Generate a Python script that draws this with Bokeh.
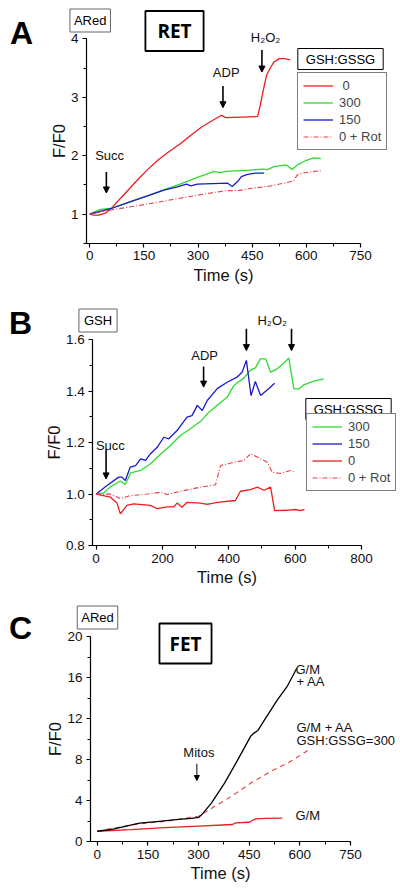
from bokeh.plotting import figure
from bokeh.layouts import column
from bokeh.models import (Label, Arrow, NormalHead, Legend, LegendItem,
                          SingleIntervalTicker, PrintfTickFormatter, Range1d)
from bokeh.embed import file_html
from bokeh.resources import INLINE

# ---------------- data ----------------
# Panel A  (ARed, RET)
tA_red = [0, 10, 25, 45, 60, 90, 130, 160, 190, 220, 250, 280, 310, 340, 365, 377, 420, 465, 472, 480, 490, 500, 510, 525, 540, 555]
yA_red = [1.00, 0.98, 0.98, 1.02, 1.10, 1.30, 1.57, 1.76, 1.93, 2.07, 2.20, 2.35, 2.49, 2.60, 2.69, 2.65, 2.66, 2.67, 2.85, 3.10, 3.38, 3.50, 3.60, 3.66, 3.66, 3.64]
tA_green = [0, 15, 30, 60, 100, 160, 200, 250, 300, 345, 360, 380, 440, 480, 492, 510, 545, 560, 575, 600, 620, 640]
yA_green = [1.00, 1.04, 1.08, 1.10, 1.18, 1.31, 1.40, 1.51, 1.63, 1.73, 1.71, 1.73, 1.75, 1.77, 1.76, 1.81, 1.84, 1.76, 1.84, 1.92, 1.96, 1.95]
tA_blue = [0, 20, 58, 113, 160, 205, 240, 268, 280, 298, 340, 381, 395, 410, 420, 437, 460, 483]
yA_blue = [1.00, 1.03, 1.09, 1.21, 1.31, 1.41, 1.46, 1.51, 1.48, 1.51, 1.52, 1.53, 1.47, 1.56, 1.64, 1.68, 1.70, 1.70]
tA_rot = [0, 30, 70, 160, 250, 345, 380, 410, 450, 500, 540, 565, 575, 590, 610, 640]
yA_rot = [1.00, 1.04, 1.08, 1.17, 1.27, 1.37, 1.40, 1.40, 1.44, 1.48, 1.53, 1.57, 1.67, 1.70, 1.72, 1.74]
A_labels = ["\u00a00", "300", "150", "0 + Rot"]
A_events = ["Succ", "ADP", "H\u2082O\u2082"]
A_event_t = [46, 369, 477]
A_arrow_top = [1.72, 3.19, 3.81]
A_arrow_tip = [1.36, 2.82, 3.43]
A_text_t = [55, 378, 487]
A_text_y = [2.00, 3.43, 4.03]

# Panel B  (GSH)
tB_green = [0, 23, 43, 73, 88, 104, 134, 164, 194, 224, 254, 284, 315, 335, 365, 395, 415, 445, 465, 480, 495, 511, 526, 546, 566, 581, 596, 611, 626, 656, 686]
yB_green = [1.0, 1.005, 1.028, 1.051, 1.037, 1.082, 1.092, 1.118, 1.155, 1.189, 1.228, 1.254, 1.283, 1.312, 1.345, 1.377, 1.422, 1.451, 1.481, 1.491, 1.526, 1.526, 1.474, 1.487, 1.51, 1.529, 1.409, 1.409, 1.425, 1.439, 1.448]
tB_blue = [0, 33, 68, 78, 88, 103, 119, 134, 149, 164, 184, 204, 219, 244, 274, 289, 305, 320, 335, 365, 395, 425, 440, 453, 467, 480, 496, 520, 538]
yB_blue = [1.0, 1.033, 1.066, 1.066, 1.053, 1.105, 1.111, 1.137, 1.131, 1.157, 1.182, 1.221, 1.215, 1.247, 1.299, 1.305, 1.345, 1.325, 1.364, 1.41, 1.435, 1.455, 1.474, 1.52, 1.383, 1.438, 1.383, 1.41, 1.431]
tB_red = [0, 43, 63, 73, 93, 113, 164, 184, 214, 234, 244, 259, 274, 315, 335, 365, 420, 435, 465, 486, 506, 526, 538, 575, 601, 616, 628]
yB_red = [1.0, 0.988, 0.965, 0.923, 0.956, 0.962, 0.956, 0.943, 0.95, 0.95, 0.965, 0.949, 0.968, 0.965, 0.96, 0.968, 0.975, 1.011, 1.017, 1.027, 1.015, 1.027, 0.936, 0.937, 0.94, 0.936, 0.94]
tB_rot = [0, 43, 73, 103, 154, 194, 214, 254, 315, 360, 375, 415, 445, 465, 496, 516, 531, 556, 586, 601]
yB_rot = [1.0, 1.0, 0.982, 0.994, 1.0, 1.007, 0.998, 1.011, 1.027, 1.036, 1.111, 1.124, 1.13, 1.157, 1.137, 1.124, 1.085, 1.08, 1.092, 1.085]
B_labels = ["300", "150", "0", "0 + Rot"]
B_arrow_t = [30, 324, 453, 589]
B_arrow_top = [1.176, 1.496, 1.643, 1.643]
B_arrow_tip = [1.059, 1.416, 1.558, 1.558]
B_events = ["Succ", "ADP", "H\u2082O\u2082"]
B_text_t = [43, 327, 531]
B_text_y = [1.189, 1.539, 1.675]

# Panel C  (ARed, FET)
tC_black = [0, 47, 86, 125, 183, 241, 280, 300, 309, 338, 377, 416, 455, 465, 475, 494, 533, 562, 591]
yC_black = [1.0, 1.2, 1.5, 1.8, 1.97, 2.15, 2.25, 2.35, 2.6, 3.75, 5.7, 7.96, 10.3, 10.6, 10.8, 11.8, 13.8, 15.1, 16.9]
tC_rot = [0, 105, 202, 300, 348, 397, 455, 514, 572, 626]
yC_rot = [1.0, 1.65, 1.97, 2.46, 3.43, 4.40, 5.70, 6.83, 7.80, 8.93]
tC_red = [0, 100, 200, 300, 400, 410, 450, 462, 470, 500, 548]
yC_red = [1.0, 1.15, 1.35, 1.5, 1.66, 1.82, 1.88, 2.1, 2.2, 2.25, 2.28]
C_arrow_t = [295]
C_arrow_top = [7.58]
C_arrow_tip = [5.95]
C_texts = ["Mitos", "G/M", "+ AA", "G/M + AA", "GSH:GSSG=300", "G/M"]
C_text_t = [301, 587, 590, 590, 590, 587]
C_text_y = [8.71, 16.8, 15.6, 11.15, 9.85, 2.54]

# ---------------- style ----------------
FONT = "Liberation Sans"
BOLD = "Open Sans"
RED = "#ee1c1c"
GREEN = "#2ddc2d"
BLUE = "#1a1acc"
ROT = "#e64048"
BLACK = "#000000"
LW = 1.3
W = 400


def make_fig(H, box, xr, yr, xint, yint, yfmt=None):
    # box = (left, right, top, bottom) of the axes area in figure pixels
    L, R, T, B = box
    x0, x1 = xr
    y0, y1 = yr
    sx = (x1 - x0) / (R - L)
    sy = (y1 - y0) / (B - T)
    p = figure(frame_width=W, frame_height=H,
               x_range=Range1d(x0 - L * sx, x1 + (W - R) * sx),
               y_range=Range1d(y0 - (H - B) * sy, y1 + T * sy),
               output_backend="svg", toolbar_location=None,
               min_border=0, min_border_left=0, min_border_right=0,
               min_border_top=0, min_border_bottom=0)
    p.outline_line_color = None
    p.xgrid.visible = False
    p.ygrid.visible = False
    p.xaxis.ticker = SingleIntervalTicker(interval=xint, num_minor_ticks=2)
    p.yaxis.ticker = SingleIntervalTicker(interval=yint, num_minor_ticks=2)
    p.xaxis.fixed_location = y0
    p.yaxis.fixed_location = x0
    p.xaxis.bounds = (x0, x1)
    p.yaxis.bounds = (y0, y1)
    if yfmt:
        p.yaxis.formatter = PrintfTickFormatter(format=yfmt)
    for ax in (p.xaxis[0], p.yaxis[0]):
        ax.major_tick_in = 0
        ax.major_tick_out = 4
        ax.minor_tick_in = 0
        ax.minor_tick_out = 3
        ax.axis_line_width = 1.2
        ax.major_tick_line_width = 1.2
        ax.major_label_text_font = FONT
        ax.major_label_text_font_size = "13.5px"
        ax.major_label_text_color = "#111111"
        ax.major_label_standoff = 4
        ax.axis_label_text_font = FONT
        ax.axis_label_text_font_size = "16.5px"
        ax.axis_label_text_font_style = "normal"
        ax.axis_label_text_color = "#111111"
    p.xaxis.axis_label = "Time (s)"
    p.yaxis.axis_label = "F/F0"
    p.xaxis.axis_label_standoff = 2
    p.yaxis.axis_label_standoff = 0
    return p


def screen_label(p, H, top, cx, cy, text, size, font=FONT, bold=False, box=None, pad=None,
                 baseline="middle"):
    # cx, cy: centre (or baseline) in page pixels
    kw = {}
    if box:
        kw.update(border_line_color=box[0], border_line_width=box[1],
                  background_fill_color="white", padding=pad)
    lab = Label(x=cx, y=H - (cy - top), x_units="screen", y_units="screen",
                text=text, text_font=font, text_font_size=size,
                text_font_style="bold" if bold else "normal",
                text_align="center", text_baseline=baseline, text_color="#000000", **kw)
    p.add_layout(lab)


def panel_letter(p, H, top, cx, base, text):
    screen_label(p, H, top, cx, base, text, "32px", font=FONT, bold=True, baseline="alphabetic")


def arrow(p, x, y0, y1, w=1.6, size=6):
    p.add_layout(Arrow(end=NormalHead(size=size, fill_color="black", line_color="black", line_width=1),
                       x_start=x, y_start=y0, x_end=x, y_end=y1,
                       line_color="black", line_width=w))


def data_label(p, x, y, text, align="center", size="13px"):
    p.add_layout(Label(x=x, y=y, text=text, text_font=FONT, text_font_size=size,
                       text_align=align, text_baseline="middle", text_color="#111111"))


def legend(p, items, x, y):
    lg = Legend(items=[LegendItem(label=l, renderers=[r]) for l, r in items],
                location=(x, y), orientation="vertical",
                border_line_color="black", border_line_width=1,
                background_fill_color="white", background_fill_alpha=1,
                label_text_font=FONT, label_text_font_size="13px",
                glyph_width=30, glyph_height=13, label_standoff=6,
                spacing=2, padding=5, margin=0, label_height=13)
    p.add_layout(lg)


# ---------------- Panel A ----------------
HA, TOPA = 290, 0
pA = make_fig(HA, (86, 360, 38.3, 242.7), (-9, 750), (0.5, 4), 150, 1)
rA1 = pA.line(tA_red, yA_red, line_color=RED, line_width=LW)
rA2 = pA.line(tA_green, yA_green, line_color=GREEN, line_width=LW)
rA3 = pA.line(tA_blue, yA_blue, line_color=BLUE, line_width=LW)
rA4 = pA.line(tA_rot, yA_rot, line_color=ROT, line_width=1.1, line_dash="5 2 1 2")
for t, a, b in zip(A_event_t, A_arrow_top, A_arrow_tip):
    arrow(pA, t, a, b)
for t, y, s in zip(A_text_t, A_text_y, A_events):
    data_label(pA, t, y, s)
legend(pA, list(zip(A_labels, [rA1, rA2, rA3, rA4])), 297, HA - (150 - TOPA))
screen_label(pA, HA, TOPA, 340, 58.5, "GSH:GSSG", "13px", box=("black", 1),
             pad=dict(left=8, right=8, top=3, bottom=3))
panel_letter(pA, HA, TOPA, 21, 32, "A")
screen_label(pA, HA, TOPA, 89.7, 20, "ARed", "13px", box=("#666666", 1),
             pad=dict(left=4, right=4, top=4, bottom=4))
screen_label(pA, HA, TOPA, 174, 30.5, "RET", "19px", font=BOLD, bold=True, box=("black", 1.8),
             pad=dict(left=12, right=12, top=7, bottom=7))

# ---------------- Panel B ----------------
HB, TOPB = 296, 290
pB = make_fig(HB, (92.3, 361, 49.3, 255), (-10, 800), (0.8, 1.6), 200, 0.2, "%.1f")
rB1 = pB.line(tB_green, yB_green, line_color=GREEN, line_width=LW)
rB2 = pB.line(tB_blue, yB_blue, line_color=BLUE, line_width=LW)
rB3 = pB.line(tB_red, yB_red, line_color=RED, line_width=LW)
rB4 = pB.line(tB_rot, yB_rot, line_color=ROT, line_width=1.1, line_dash="5 2 1 2")
for t, a, b in zip(B_arrow_t, B_arrow_top, B_arrow_tip):
    arrow(pB, t, a, b)
for t, y, s in zip(B_text_t, B_text_y, B_events):
    data_label(pB, t, y, s)
legend(pB, list(zip(B_labels, [rB1, rB2, rB3, rB4])), 306, HB - (491 - TOPB))
screen_label(pB, HB, TOPB, 348, 408.5, "GSH:GSSG", "13px", box=("black", 1),
             pad=dict(left=8, right=8, top=3, bottom=3))
panel_letter(pB, HB, TOPB, 20, 322, "B")
screen_label(pB, HB, TOPB, 97.5, 320, "GSH", "13px", box=("#666666", 1),
             pad=dict(left=5, right=5, top=4, bottom=4))

# ---------------- Panel C ----------------
HC, TOPC = 300, 586
pC = make_fig(HC, (90, 350, 50, 255), (-20, 750), (0, 20), 150, 4)
pC.line(tC_red, yC_red, line_color=RED, line_width=LW)
pC.line(tC_rot, yC_rot, line_color=ROT, line_width=1.1, line_dash="5 4")
pC.line(tC_black, yC_black, line_color=BLACK, line_width=LW)
for t, a, b in zip(C_arrow_t, C_arrow_top, C_arrow_tip):
    arrow(pC, t, a, b, w=1.0, size=5)
data_label(pC, C_text_t[0], C_text_y[0], C_texts[0])
for t, y, s in zip(C_text_t[1:], C_text_y[1:], C_texts[1:]):
    data_label(pC, t, y, s, align="left")
panel_letter(pC, HC, TOPC, 20, 627, "C")
screen_label(pC, HC, TOPC, 97, 617, "ARed", "13px", box=("#666666", 1),
             pad=dict(left=4, right=4, top=4, bottom=4))
screen_label(pC, HC, TOPC, 185, 643, "FET", "19px", font=BOLD, bold=True, box=("black", 1.8),
             pad=dict(left=10, right=10, top=7, bottom=7))

page = column(pA, pB, pC, spacing=0)
open("out.html", "w").write(file_html(page, INLINE))
